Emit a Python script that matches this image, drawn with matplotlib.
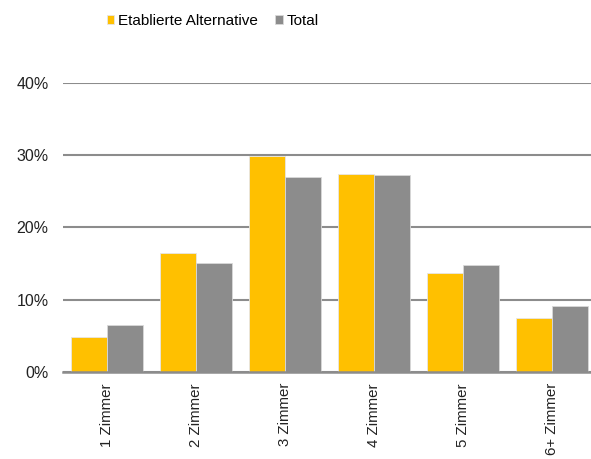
import matplotlib.pyplot as plt
import numpy as np

# data
categories = ["1 Zimmer", "2 Zimmer", "3 Zimmer", "4 Zimmer", "5 Zimmer", "6+ Zimmer"]
etablierte = [4.8, 16.5, 29.9, 27.4, 13.7, 7.4]
total = [6.5, 15.1, 27.0, 27.3, 14.8, 9.1]
yticks = [0, 10, 20, 30, 40]

yellow = "#FFC000"
grey = "#8C8C8C"

plt.rcParams['font.family'] = ['Liberation Sans', 'DejaVu Sans']

fig = plt.figure(figsize=(5.91, 4.59), dpi=100)
# axes runs a bit past the right edge, like the cropped original
ax = fig.add_axes([62.5 / 591, 87 / 459, 534 / 591, 289.3 / 459])

x = np.arange(len(categories))
w = 0.4
ax.bar(x - w / 2, etablierte, w, color=yellow, label="Etablierte Alternative",
       edgecolor="#e6e6e6", linewidth=0.6, zorder=3)
ax.bar(x + w / 2, total, w, color=grey, label="Total",
       edgecolor="#d9d9d9", linewidth=0.6, zorder=3)

ax.set_xlim(-0.5, len(categories) - 0.5)
ax.set_ylim(0, 40)
ax.set_yticks(yticks)
ax.set_yticklabels([f"{t}%" for t in yticks], fontsize=11.5, color="#222222")
ax.set_xticks(x)
ax.set_xticklabels(categories, rotation=90, fontsize=10.8, color="#222222")
ax.tick_params(axis='both', length=0)
ax.tick_params(axis='y', pad=10)
ax.tick_params(axis='x', pad=8)

ax.yaxis.grid(True, color=grey, linewidth=1.5, zorder=0)
for s in ["top", "right", "left"]:
    ax.spines[s].set_visible(False)
ax.spines["bottom"].set_color(grey)
ax.spines["bottom"].set_linewidth(1.8)
ax.spines["bottom"].set_zorder(4)

fig.legend(loc="upper left", bbox_to_anchor=(93 / 591, 1.0), ncol=2, frameon=False,
           fontsize=11, handlelength=0.5, handleheight=0.5, handletextpad=0.25,
           columnspacing=1.1)

fig.savefig("out.png", dpi=100)
